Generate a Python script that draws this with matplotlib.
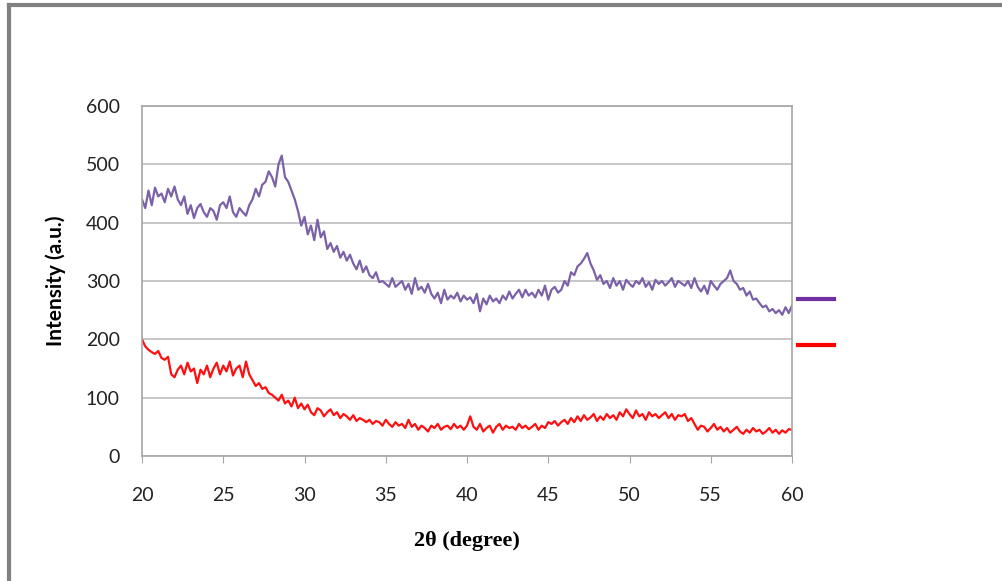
import matplotlib.pyplot as plt
import numpy as np
from matplotlib.lines import Line2D

# 2theta 軸: 20 到 60 度, 每 0.2 度一點
two_theta = np.linspace(20, 60, 201)

# 上方曲線 (紫色)
purple_vals = [
    440, 425, 455, 430, 460, 445, 450, 435, 458, 445,
    462, 440, 430, 445, 415, 430, 408, 425, 432, 418,
    410, 425, 420, 405, 430, 435, 425, 445, 418, 410,
    425, 418, 412, 430, 440, 458, 445, 465, 470, 488,
    478, 462, 500, 515, 478, 470, 455, 440, 420, 395,
    410, 380, 395, 370, 405, 375, 385, 355, 365, 350,
    360, 340, 350, 335, 345, 330, 320, 335, 315, 325,
    310, 305, 315, 298, 300, 295, 290, 305, 290, 295,
    300, 285, 295, 278, 305, 285, 290, 280, 295, 278,
    270, 280, 262, 285, 268, 275, 270, 280, 265, 275,
    268, 272, 262, 278, 248, 270, 260, 275, 265, 270,
    262, 275, 268, 282, 270, 278, 285, 272, 285, 275,
    280, 272, 285, 275, 292, 268, 285, 290, 280, 285,
    300, 292, 315, 310, 325, 330, 338, 348, 330, 318,
    302, 310, 295, 300, 288, 305, 292, 300, 285, 302,
    295, 290, 300, 295, 305, 290, 298, 285, 302, 295,
    300, 292, 298, 305, 290, 300, 296, 292, 300, 288,
    305, 290, 282, 292, 278, 300, 292, 285, 295, 300,
    305, 318, 300, 295, 285, 288, 275, 282, 268, 270,
    262, 255, 258, 248, 252, 245, 250, 242, 255, 245,
    258,
]

# 下方曲線 (紅色)
red_vals = [
    200, 188, 182, 178, 175, 180, 168, 165, 170, 140,
    135, 148, 155, 140, 160, 145, 150, 125, 148, 140,
    155, 135, 150, 160, 140, 155, 145, 162, 138, 150,
    155, 135, 162, 140, 130, 120, 125, 115, 118, 108,
    105, 100, 95, 105, 90, 95, 85, 100, 82, 90,
    80, 88, 75, 70, 82, 78, 68, 75, 80, 70,
    75, 65, 72, 68, 62, 70, 60, 65, 62, 58,
    62, 55, 60, 58, 52, 62, 55, 50, 58, 52,
    55, 48, 62, 50, 55, 45, 52, 48, 42, 52,
    48, 55, 45, 50, 52, 46, 55, 48, 52, 45,
    52, 68, 50, 45, 55, 42, 48, 52, 40, 50,
    55, 45, 52, 48, 50, 45, 55, 48, 52, 46,
    50, 55, 45, 52, 48, 58, 55, 60, 52, 58,
    62, 55, 65, 58, 68, 60, 70, 62, 66, 72,
    60, 68, 62, 72, 65, 70, 62, 75, 68, 80,
    72, 65, 78, 68, 72, 62, 75, 68, 72, 65,
    70, 75, 65, 72, 62, 70, 68, 72, 60, 65,
    55, 45, 52, 50, 42, 48, 55, 45, 50, 42,
    48, 40, 45, 50, 42, 38, 45, 40, 48, 42,
    45, 38, 42, 48, 40, 45, 38, 44, 40, 46,
    45,
]

x_ticks = [20, 25, 30, 35, 40, 45, 50, 55, 60]
y_ticks = [0, 100, 200, 300, 400, 500, 600]

fig = plt.figure(figsize=(10.03, 5.81), dpi=100)
ax = fig.add_axes([142 / 1003, 1 - 456 / 581, 650 / 1003, 350 / 581])

ax.plot(two_theta, purple_vals, color='#7b61a8', lw=1.6)
ax.plot(two_theta, red_vals, color='#ff1010', lw=1.6)

ax.set_xlim(20, 60)
ax.set_ylim(0, 600)
ax.set_xticks(x_ticks)
ax.set_yticks(y_ticks)
ax.grid(axis='y', color='#bdbdbd', lw=1.2)
ax.set_axisbelow(True)
for s in ax.spines.values():
    s.set_color('#a6a6a6')
    s.set_linewidth(1.2)

ax.tick_params(axis='y', length=0, pad=16, labelsize=14, labelcolor='#222222')
ax.tick_params(axis='x', length=5, color='#a6a6a6', pad=17, labelsize=14, labelcolor='#222222')
for lab in ax.get_xticklabels() + ax.get_yticklabels():
    lab.set_fontfamily('Lato')

ax.set_ylabel('Intensity (a.u.)', fontfamily='Lato', fontweight='bold', fontsize=15, labelpad=14)
ax.set_xlabel('2θ (degree)', fontfamily='Liberation Serif', fontweight='bold', fontsize=16, labelpad=20)

# 圖例: 只有短線, 沒有文字
handles = [Line2D([], [], color='#7030a0', lw=3), Line2D([], [], color='#ff0000', lw=3)]
fig.legend(handles, [' ', ' '], loc='upper left', bbox_to_anchor=(787 / 1003, 1 - 282 / 581),
           frameon=False, handlelength=2.6, labelspacing=2.3, fontsize=10, borderpad=0.3)

# 外框 (左與上)
fig.add_artist(Line2D([9 / 1003, 9 / 1003], [0, 1 - 5 / 581], color='#808080', lw=3))
fig.add_artist(Line2D([9 / 1003, 1], [1 - 5 / 581, 1 - 5 / 581], color='#808080', lw=3))

fig.savefig('out.png', dpi=100)
